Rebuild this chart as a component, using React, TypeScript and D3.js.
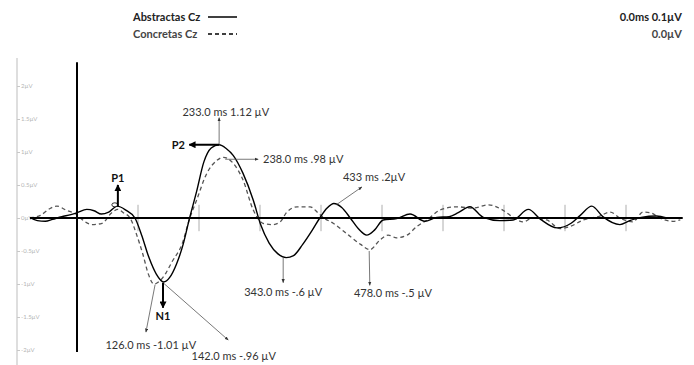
import { useEffect, useRef } from 'react'
import * as d3 from 'd3'

// ERP waveforms at Cz, time in ms, amplitude in µV
const abstractTimes = [-77, -65, -52, -40, -25, -10, 0, 16, 28, 40, 52, 66, 80, 95, 106, 118, 130, 142, 152, 163, 174, 184, 196, 208, 220, 233, 245, 256, 272, 289, 301, 315, 329, 343, 355, 370, 386, 398, 410, 421, 434, 448, 461, 475, 488, 502, 524, 546, 570, 590, 610, 625, 644, 666, 693, 715, 740, 760, 787, 810, 825, 844, 862, 890, 906, 925, 950, 967]
const abstractValues = [0.01, -0.04, -0.05, -0.02, 0.02, 0.05, 0.08, 0.13, 0.11, 0.06, 0.09, 0.18, 0.12, 0.0, -0.26, -0.6, -0.85, -0.97, -0.9, -0.7, -0.4, -0.02, 0.4, 0.85, 1.06, 1.11, 1.05, 0.95, 0.68, 0.27, -0.1, -0.38, -0.54, -0.6, -0.57, -0.4, -0.18, 0.0, 0.15, 0.22, 0.16, 0.0, -0.16, -0.26, -0.18, -0.03, -0.01, 0.06, -0.05, 0.01, 0.02, 0.08, 0.17, 0.01, -0.04, -0.03, 0.13, -0.02, -0.15, -0.08, 0.04, 0.18, 0.02, -0.1, -0.04, 0.01, 0.03, 0.0]

const concreteTimes = [-77, -60, -45, -33, -18, 0, 12, 25, 41, 57, 67, 76, 87, 98, 108, 117, 126, 136, 146, 156, 172, 185, 196, 213, 229, 240, 256, 272, 289, 305, 321, 333, 344, 361, 382, 396, 405, 420, 448, 465, 480, 497, 510, 524, 541, 557, 574, 595, 623, 649, 674, 698, 715, 731, 747, 770, 792, 808, 830, 857, 874, 890, 911, 928, 940, 955, 977, 989]
const concreteValues = [0.0, 0.04, 0.14, 0.18, 0.12, 0.05, -0.05, -0.1, -0.08, 0.08, 0.13, 0.08, 0.0, -0.26, -0.55, -0.85, -1.0, -0.95, -0.83, -0.66, -0.4, 0.0, 0.27, 0.68, 0.87, 0.92, 0.83, 0.58, 0.12, -0.08, -0.1, -0.06, 0.09, 0.17, 0.17, 0.07, 0.0, -0.08, -0.28, -0.4, -0.48, -0.33, -0.26, -0.3, -0.26, -0.13, -0.03, 0.12, 0.17, 0.15, 0.2, 0.12, 0.01, -0.06, 0.0, -0.03, -0.16, -0.13, -0.03, 0.03, 0.09, 0.0, -0.06, 0.09, 0.08, 0.0, -0.05, -0.03]

const yTicks = [2, 1.5, 1, 0.5, 0, -0.5, -1, -1.5, -2]
const yTickLabels = ['2µV', '1.5µV', '1µV', '0.5µV', '0µV', '-0.5µV', '-1µV', '-1.5µV', '-2µV']
const timeTicks = [100, 200, 300, 400, 500, 600, 700, 800, 900]

// latency / amplitude callouts: arrow from [t, v] to [t, v], label anchored at [t, v]
const callouts = [
  { label: '233.0 ms 1.12 µV', from: [233, 1.11], to: [233, 1.52], at: [244, 1.6], anchor: 'middle' },
  { label: '238.0 ms .98 µV', from: [243, 0.89], to: [297, 0.89], at: [305, 0.89], anchor: 'start' },
  { label: '433 ms .2µV', from: [425, 0.2], to: [467, 0.47], at: [436, 0.62], anchor: 'start' },
  { label: '343.0 ms -.6 µV', from: [338, -0.6], to: [338, -0.98], at: [338, -1.12], anchor: 'middle' },
  { label: '478.0 ms -.5 µV', from: [479, -0.5], to: [480, -1.02], at: [518, -1.14], anchor: 'middle' },
  { label: '126.0 ms -1.01 µV', from: [128, -1.01], to: [113, -1.73], at: [121, -1.92], anchor: 'middle' },
  { label: '142.0 ms -.96 µV', from: [141, -0.98], to: [248, -1.85], at: [257, -2.09], anchor: 'middle' },
]

const components = [
  { label: 'P1', from: [67, 0.17], to: [67, 0.5], at: [67, 0.6], anchor: 'middle' },
  { label: 'P2', from: [233, 1.11], to: [184, 1.11], at: [177, 1.1], anchor: 'end' },
  { label: 'N1', from: [141, -0.98], to: [141, -1.36], at: [141, -1.48], anchor: 'middle' },
]

const width = 694
const height = 365
const font = 'Lato, "Open Sans", sans-serif'

export default function App() {
  const axisRef = useRef<SVGGElement>(null)

  const x = d3.scaleLinear().domain([-100, 1000]).range([16, 687])
  const y = d3.scaleLinear().domain([-2, 2]).range([350, 86])

  useEffect(() => {
    if (!axisRef.current) return
    const g = d3.select(axisRef.current)
    g.selectAll('*').remove()
    const axis = d3
      .axisRight(y)
      .tickValues(yTicks)
      .tickSize(3)
      .tickPadding(1)
      .tickFormat((_, i) => yTickLabels[i])
    g.call(axis)
    g.select('.domain').remove()
    g.selectAll('line').attr('stroke', '#c8c8c8')
    g.selectAll('text').style('font-size', '6px').style('font-family', font).attr('fill', '#b5b5b5')
  }, [])

  const line = d3
    .line<[number, number]>()
    .x((d) => x(d[0]))
    .y((d) => y(d[1]))
    .curve(d3.curveMonotoneX)

  const abstractData = abstractTimes.map((t, i) => [t, abstractValues[i]] as [number, number])
  const concreteData = concreteTimes.map((t, i) => [t, concreteValues[i]] as [number, number])

  return (
    <svg width={width} height={height} style={{ position: 'absolute', left: 0, top: 0, background: '#fff' }}>
      <defs>
        <marker id="thin" viewBox="0 0 10 10" refX="9" refY="5" markerWidth="5" markerHeight="5" orient="auto">
          <path d="M0,1 L10,5 L0,9 z" fill="#333" />
        </marker>
        <marker id="bold" viewBox="0 0 10 10" refX="9" refY="5" markerWidth="3.5" markerHeight="3.5" orient="auto">
          <path d="M0,0 L10,5 L0,10 z" fill="#000" />
        </marker>
      </defs>

      {/* legend */}
      <g style={{ fontFamily: font, fontSize: 11 }}>
        <text x={133} y={21} fontWeight="bold" fill="#222">Abstractas Cz</text>
        <line x1={208} x2={237} y1={17} y2={17} stroke="#000" strokeWidth={1.5} />
        <text x={133} y={38} fontWeight="bold" fill="#444">Concretas  Cz</text>
        <line x1={208} x2={237} y1={34} y2={34} stroke="#000" strokeWidth={1.5} strokeDasharray="4,3" />
        <text x={682} y={21} fontWeight="bold" fill="#222" textAnchor="end">0.0ms 0.1µV</text>
        <text x={682} y={38} fontWeight="bold" fill="#444" textAnchor="end">0.0µV</text>
      </g>

      {/* gray amplitude axis */}
      <line x1={17} x2={17} y1={58} y2={365} stroke="#c8c8c8" strokeWidth={1.2} />
      <g ref={axisRef} transform="translate(17,0)" />

      {/* time ticks */}
      {timeTicks.map((t) => (
        <line key={t} x1={x(t)} x2={x(t)} y1={y(0.2)} y2={y(-0.2)} stroke="#9a9a9a" strokeWidth={0.8} />
      ))}

      {/* waveforms */}
      <path d={line(concreteData) ?? ''} fill="none" stroke="#555" strokeWidth={1.3} strokeDasharray="4,3" />
      <path d={line(abstractData) ?? ''} fill="none" stroke="#000" strokeWidth={1.4} />

      {/* baseline and stimulus onset */}
      <line x1={x(-77)} x2={x(993)} y1={y(0)} y2={y(0)} stroke="#000" strokeWidth={2.2} />
      <line x1={x(0)} x2={x(0)} y1={y(2.36)} y2={y(-2.03)} stroke="#000" strokeWidth={2} />

      <ellipse cx={x(62)} cy={y(0.2)} rx={3} ry={2} fill="#fff" stroke="#000" strokeWidth={0.8} />

      {/* callouts */}
      <g style={{ fontFamily: font, fontSize: 11 }}>
        {callouts.map((c) => (
          <g key={c.label}>
            <line
              x1={x(c.from[0])}
              y1={y(c.from[1])}
              x2={x(c.to[0])}
              y2={y(c.to[1])}
              stroke="#555"
              strokeWidth={0.8}
              markerEnd="url(#thin)"
            />
            <text x={x(c.at[0])} y={y(c.at[1])} dy="0.35em" textAnchor={c.anchor} fill="#333">
              {c.label}
            </text>
          </g>
        ))}
        {components.map((c) => (
          <g key={c.label}>
            <line
              x1={x(c.from[0])}
              y1={y(c.from[1])}
              x2={x(c.to[0])}
              y2={y(c.to[1])}
              stroke="#000"
              strokeWidth={2}
              markerEnd="url(#bold)"
            />
            <text x={x(c.at[0])} y={y(c.at[1])} dy="0.35em" textAnchor={c.anchor} fontWeight="bold" fill="#111">
              {c.label}
            </text>
          </g>
        ))}
      </g>
    </svg>
  )
}
